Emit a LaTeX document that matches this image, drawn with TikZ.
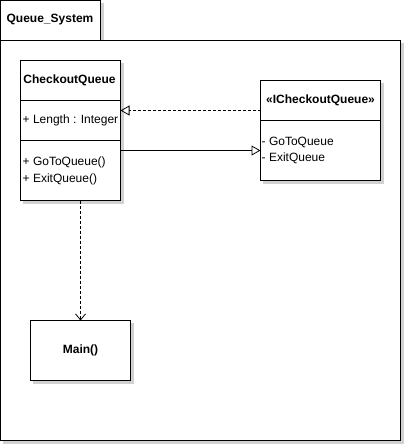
\documentclass[tikz,border=0pt]{standalone}
\usepackage{fontspec}
\setmainfont{Liberation Sans}
\usetikzlibrary{arrows.meta}
\tikzset{
  shadowed/.style={draw=black,line width=1pt,fill=white},
  shadowfill/.style={fill=black!18,draw=none},
  title/.style={font=\fontsize{12}{14}\selectfont\bfseries,inner sep=0pt},
  member/.style={font=\fontsize{12}{14}\selectfont,inner sep=0pt,anchor=west},
  dep/.style={line width=0.8pt,dash pattern=on 3pt off 2pt},
  realize/.style={line width=0.8pt,-{Triangle[open,length=9pt,width=10pt]}},
  usearrow/.style={line width=0.8pt,-{Straight Barb[length=6pt,width=10pt]}}
}
\begin{document}
\begin{tikzpicture}[x=1pt,y=-1pt]
\useasboundingbox (0,0) rectangle (405,445);
% package shadows
\fill[shadowfill] (3,3) rectangle (104,44);
\fill[shadowfill] (3,43) rectangle (404,444);
% package frame
\draw[shadowed] (0.5,0.5) rectangle (100,40.5);
\draw[shadowed] (0.5,40.5) rectangle (400.5,440.5);
\node[title] (pkg) at (50,20) {Queue\_System};
% CheckoutQueue
\fill[shadowfill] (23,63) rectangle (124,204);
\draw[shadowed] (20.5,60.5) rectangle (120.5,200.5);
\node[title] (cqt) at (69.5,80) {CheckoutQueue};
\coordinate (cqA) at (20.5,100.5);
\coordinate (cqB) at (120.5,100.5);
\coordinate (cqC) at (20.5,140.5);
\coordinate (cqD) at (120.5,140.5);
\draw[line width=1pt] (cqA) -- (cqB);
\draw[line width=1pt] (cqC) -- (cqD);
\node[member] (len) at (22.5,120.5) {+ Length : Integer};
\node[member] (go) at (22.5,162.5) {+ GoToQueue()};
\node[member] (ex) at (22.5,179.5) {+ ExitQueue()};
% ICheckoutQueue
\fill[shadowfill] (263,83) rectangle (384,184);
\draw[shadowed] (260.5,80.5) rectangle (380.5,180.5);
\node[title] (ift) at (320.5,100.5) {«ICheckoutQueue»};
\coordinate (ifA) at (260.5,120.5);
\coordinate (ifB) at (380.5,120.5);
\draw[line width=1pt] (ifA) -- (ifB);
\node[member] (igo) at (261.5,142.5) {- GoToQueue};
\node[member] (iex) at (261.5,158) {- ExitQueue};
% Main
\fill[shadowfill] (33,323) rectangle (134,384);
\draw[shadowed] (30.5,320.5) rectangle (130.5,380.5);
\node[title] (main) at (80.5,350.5) {Main()};
% connectors
\coordinate (d1s) at (260.5,110.5);
\coordinate (d1e) at (120.5,110.5);
\draw[dep,realize,dash pattern=on 3pt off 2pt] (d1s) -- (d1e);
\coordinate (r1s) at (120.5,150.5);
\coordinate (r1e) at (260.5,150.5);
\draw[realize] (r1s) -- (r1e);
\coordinate (u1s) at (80.5,200.5);
\coordinate (u1e) at (80.5,320.5);
\draw[dep,usearrow] (u1s) -- (u1e);
\end{tikzpicture}
\end{document}
